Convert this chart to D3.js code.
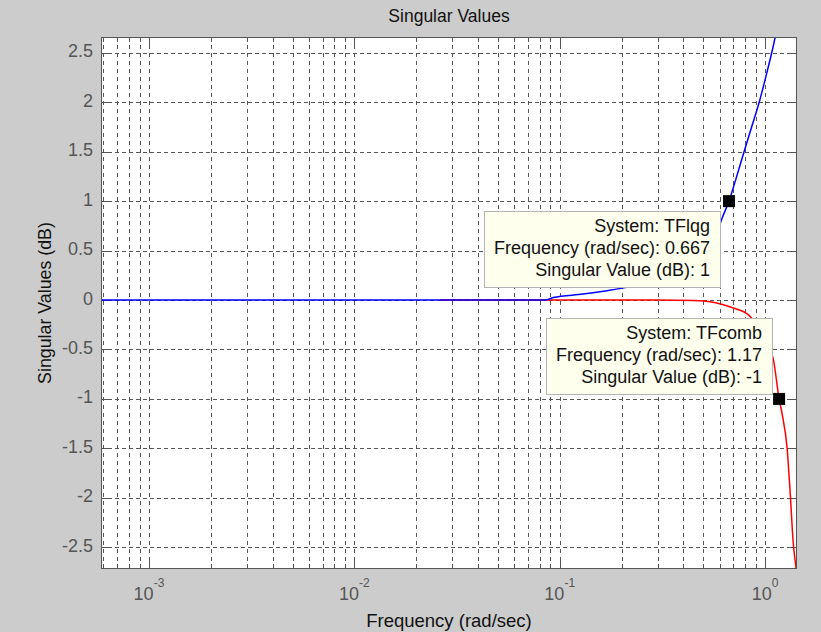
<!DOCTYPE html>
<html><head><meta charset="utf-8">
<script src="https://cdn.jsdelivr.net/npm/d3@7/dist/d3.min.js"></script>
<style>
body{margin:0;background:#cccccc;}
svg{display:block;}
</style>
</head><body>
<svg id="chart" width="821" height="632"></svg>
<script>
// ---- data ----
const titleText = "Singular Values";
const xLabelText = "Frequency (rad/sec)";
const yLabelText = "Singular Values (dB)";
const xDomain = [5.84e-4, 1.43];
const yDomain = [-2.72, 2.66];
const xMajorTicks = [1e-3, 1e-2, 1e-1, 1];
const xTickExponents = ["-3", "-2", "-1", "0"];
const yTicks = [-2.5, -2, -1.5, -1, -0.5, 0, 0.5, 1, 1.5, 2, 2.5];
const yTickLabels = ["-2.5", "-2", "-1.5", "-1", "-0.5", "0", "0.5", "1", "1.5", "2", "2.5"];

// TFlqg (blue)
const lqgFreq = [0.0005, 0.005, 0.03, 0.085, 0.093, 0.13, 0.17, 0.212, 0.3, 0.4, 0.5, 0.58, 0.618, 0.667, 0.72, 0.79, 0.86, 0.936, 1.02, 1.12, 1.2];
const lqgDb   = [0, 0, 0, 0, 0.025, 0.06, 0.095, 0.128, 0.2, 0.3, 0.47, 0.67, 0.83, 1.0, 1.22, 1.5, 1.75, 2.0, 2.3, 2.66, 3.0];

// TFcomb (red)
const combFreq = [0.0262, 0.1, 0.3, 0.45, 0.55, 0.62, 0.70, 0.83, 0.95, 1.05, 1.095, 1.17, 1.21, 1.28, 1.325, 1.37, 1.42, 1.45];
const combDb   = [0, 0, 0, -0.005, -0.02, -0.045, -0.08, -0.15, -0.3, -0.48, -0.59, -1.0, -1.15, -1.5, -1.95, -2.45, -2.75, -3.0];

// data tips
const tipSystems = ["TFlqg", "TFcomb"];
const tipFreqs = [0.667, 1.17];
const tipFreqText = ["0.667", "1.17"];
const tipDb = [1, -1];
const tipDbText = ["1", "-1"];

// ---- layout ----
const W = 821, H = 632;
const plot = {left: 101, right: 797, top: 37, bottom: 569};
const svg = d3.select("#chart");
svg.append("rect").attr("width", W).attr("height", H).attr("fill", "#cccccc");

const x = d3.scaleLog().domain(xDomain).range([plot.left, plot.right]);
const y = d3.scaleLinear().domain(yDomain).range([plot.bottom, plot.top]);

svg.append("rect").attr("x", plot.left).attr("y", plot.top)
  .attr("width", plot.right - plot.left).attr("height", plot.bottom - plot.top)
  .attr("fill", "#ffffff");

// minor + major x values
const xAll = [];
for (let d = -4; d <= 0; d++) for (let k = 1; k <= 9; k++) {
  const v = k * Math.pow(10, d);
  if (v >= xDomain[0] && v <= xDomain[1]) xAll.push(v);
}
const isMajor = v => xMajorTicks.some(m => Math.abs(m - v) / m < 1e-9);

const gridColor = "#555";
const grid = svg.append("g").attr("shape-rendering", "crispEdges");
grid.selectAll("line.vg").data(xAll).join("line")
  .attr("x1", d => Math.round(x(d)) + 0.5).attr("x2", d => Math.round(x(d)) + 0.5)
  .attr("y1", plot.top).attr("y2", plot.bottom)
  .attr("stroke", gridColor).attr("stroke-width", 1).attr("stroke-dasharray", "4,4");
grid.selectAll("line.hg").data(yTicks).join("line")
  .attr("y1", d => Math.round(y(d)) + 0.5).attr("y2", d => Math.round(y(d)) + 0.5)
  .attr("x1", plot.left).attr("x2", plot.right)
  .attr("stroke", gridColor).attr("stroke-width", 1).attr("stroke-dasharray", "4,3");

// ticks
const tickColor = "#555";
const ticks = svg.append("g").attr("shape-rendering", "crispEdges").attr("stroke", tickColor);
xAll.forEach(v => {
  const len = isMajor(v) ? 10 : 5;
  const px = Math.round(x(v)) + 0.5;
  ticks.append("line").attr("x1", px).attr("x2", px).attr("y1", plot.bottom).attr("y2", plot.bottom - len);
  ticks.append("line").attr("x1", px).attr("x2", px).attr("y1", plot.top).attr("y2", plot.top + len);
});
yTicks.forEach(v => {
  const py = Math.round(y(v)) + 0.5;
  ticks.append("line").attr("x1", plot.left).attr("x2", plot.left + 7).attr("y1", py).attr("y2", py);
  ticks.append("line").attr("x1", plot.right).attr("x2", plot.right - 7).attr("y1", py).attr("y2", py);
});

// lines
svg.append("clipPath").attr("id", "clip").append("rect")
  .attr("x", plot.left).attr("y", plot.top)
  .attr("width", plot.right - plot.left).attr("height", plot.bottom - plot.top);
const line = d3.line().x(d => x(d[0])).y(d => y(d[1])).curve(d3.curveMonotoneX);
const lines = svg.append("g").attr("clip-path", "url(#clip)");
lines.append("path").datum(combFreq.map((f, i) => [f, combDb[i]]))
  .attr("d", line).attr("fill", "none").attr("stroke", "#ff0000").attr("stroke-width", 1.5);
lines.append("path").datum(lqgFreq.map((f, i) => [f, lqgDb[i]]))
  .attr("d", line).attr("fill", "none").attr("stroke", "#0000ff").attr("stroke-width", 1.5);

// frame
svg.append("rect").attr("x", plot.left + 0.5).attr("y", plot.top + 0.5)
  .attr("width", plot.right - plot.left - 1).attr("height", plot.bottom - plot.top - 1)
  .attr("fill", "none").attr("stroke", "#555").attr("shape-rendering", "crispEdges");

// tick labels
const font = "'Liberation Sans', Arial, Helvetica, sans-serif";
const labelColor = "#555";
const yl = svg.append("g").attr("font-family", font).attr("font-size", 18).attr("fill", labelColor);
yTicks.forEach((v, i) => {
  yl.append("text").attr("x", plot.left - 8).attr("y", y(v) + 4.5)
    .attr("text-anchor", "end").text(yTickLabels[i]);
});
const xl = svg.append("g").attr("font-family", font).attr("fill", labelColor);
xMajorTicks.forEach((v, i) => {
  const t = xl.append("text").attr("x", x(v)).attr("y", 600).attr("text-anchor", "middle").attr("font-size", 18);
  t.append("tspan").text("10");
  t.append("tspan").attr("dy", -13).attr("font-size", 12).text(xTickExponents[i]);
});

// title and axis labels
svg.append("text").attr("x", (plot.left + plot.right) / 2).attr("y", 22)
  .attr("text-anchor", "middle").attr("font-family", font).attr("font-size", 17.5).attr("fill", "#111").text(titleText);
svg.append("text").attr("x", (plot.left + plot.right) / 2).attr("y", 627)
  .attr("text-anchor", "middle").attr("font-family", font).attr("font-size", 18.5).attr("fill", "#111").text(xLabelText);
svg.append("text").attr("transform", `translate(51,${(plot.top + plot.bottom) / 2}) rotate(-90)`)
  .attr("text-anchor", "middle").attr("font-family", font).attr("font-size", 17.8).attr("fill", "#111").text(yLabelText);

// data tips
const tips = svg.append("g");
const tipOffsets = [{dx: -9, dy: 10, anchorTop: true}, {dx: -7, dy: -5, anchorTop: false}];
tipSystems.forEach((sys, i) => {
  const mx = x(tipFreqs[i]), my = y(tipDb[i]);
  const g = tips.append("g");
  const lines3 = ["System: " + sys, "Frequency (rad/sec): " + tipFreqText[i], "Singular Value (dB): " + tipDbText[i]];
  const rect = g.append("rect").attr("fill", "#ffffee").attr("stroke", "#b4b4b4").attr("shape-rendering", "crispEdges");
  const texts = lines3.map((s, j) => g.append("text").attr("font-family", font).attr("font-size", 18)
    .attr("fill", "#111").attr("text-anchor", "end").text(s));
  const maxW = d3.max(texts, t => t.node().getComputedTextLength());
  const bw = Math.round(maxW + 20), bh = 76;
  const right = Math.round(mx + tipOffsets[i].dx);
  const top = tipOffsets[i].anchorTop ? Math.round(my + tipOffsets[i].dy) : Math.round(my + tipOffsets[i].dy - bh);
  rect.attr("x", right - bw + 0.5).attr("y", top + 0.5).attr("width", bw).attr("height", bh);
  texts.forEach((t, j) => t.attr("x", right - 10).attr("y", top + 21 + j * 22));
  tips.append("rect").attr("x", mx - 6).attr("y", my - 6).attr("width", 12).attr("height", 12).attr("fill", "#000");
});
</script>
</body></html>
